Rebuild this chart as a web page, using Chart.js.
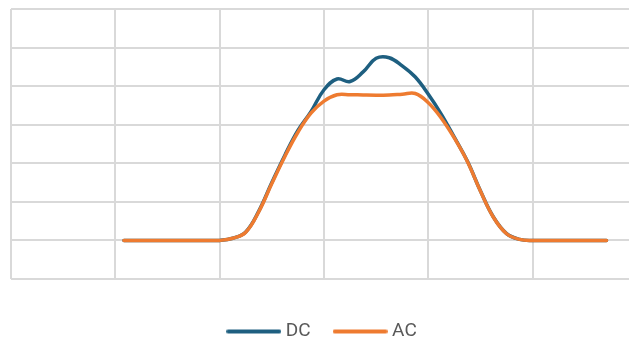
<!DOCTYPE html>
<html>
<head>
<meta charset="utf-8">
<script src="https://cdn.jsdelivr.net/npm/chart.js@4"></script>
<style>
  html, body { margin: 0; padding: 0; overflow: hidden; background: #fff; }
  #wrap { width: 660px; height: 351px; }
</style>
</head>
<body>
<div id="wrap"><canvas id="powerChart"></canvas></div>
<script>
// hour of day for each reading
const hours = [4.33, 5, 6, 7, 7.5, 8, 8.5, 9, 9.5, 10, 10.5, 11, 11.5, 12, 12.5, 13, 13.5,
               14, 14.5, 15, 15.5, 16, 16.5, 17, 17.5, 18, 18.5, 19, 19.5, 20, 21, 22, 22.83];
// power in W
const dcPower = [0, 0, 0, 0, 0, 0, 57, 220, 760, 1500, 2210, 2850, 3338, 3907, 4185, 4120, 4369,
                 4721, 4737, 4524, 4236, 3790, 3270, 2670, 2050, 1280, 600, 176, 28, 0, 0, 0, 0];
const acPower = [0, 0, 0, 0, 0, 0, 57, 213, 744, 1475, 2178, 2805, 3298, 3612, 3778, 3778, 3770,
                 3765, 3770, 3790, 3809, 3570, 3168, 2650, 2040, 1273, 594, 174, 28, 0, 0, 0, 0];
const seriesNames = ['DC', 'AC'];

const dcColor = '#1e5f80';
const acColor = '#ee7b30';
const gridColor = '#d9d9d9';

// legend marker: a short round-capped line
function legendLine(color) {
    const c = document.createElement('canvas');
    c.width = 55;
    c.height = 6;
    const g = c.getContext('2d');
    g.strokeStyle = color;
    g.lineWidth = 4;
    g.lineCap = 'round';
    g.beginPath();
    g.moveTo(2, 3);
    g.lineTo(53, 3);
    g.stroke();
    return c;
}

function toPoints(values) {
    return hours.map((h, i) => ({ x: h, y: values[i] }));
}

document.addEventListener('DOMContentLoaded', () => {
    const ctx = document.getElementById('powerChart').getContext('2d');
    new Chart(ctx, {
        type: 'line',
        data: {
            datasets: [{
                label: seriesNames[0],
                data: toPoints(dcPower),
                borderColor: dcColor,
                backgroundColor: dcColor,
                borderWidth: 3.5,
                borderCapStyle: 'round',
                pointRadius: 0,
                pointStyle: legendLine(dcColor),
                tension: 0.4,
                order: 1
            }, {
                label: seriesNames[1],
                data: toPoints(acPower),
                borderColor: acColor,
                backgroundColor: acColor,
                borderWidth: 3.5,
                borderCapStyle: 'round',
                pointRadius: 0,
                pointStyle: legendLine(acColor),
                tension: 0.4,
                order: 0
            }]
        },
        options: {
            responsive: true,
            maintainAspectRatio: false,
            animation: false,
            layout: { padding: { left: 11, top: 9, right: 23, bottom: 0 } },
            scales: {
                x: {
                    type: 'linear',
                    min: 0,
                    max: 24,
                    ticks: { display: false, stepSize: 4 },
                    grid: { color: gridColor, lineWidth: 2, drawTicks: false },
                    border: { display: false },
                    afterFit: (scale) => { scale.height = 16; }
                },
                y: {
                    min: -1000,
                    max: 6000,
                    ticks: { display: false, stepSize: 1000 },
                    grid: { color: gridColor, lineWidth: 2, drawTicks: false },
                    border: { display: false },
                    afterFit: (scale) => { scale.width = 0; }
                }
            },
            plugins: {
                legend: {
                    position: 'bottom',
                    labels: {
                        usePointStyle: true,
                        pointStyleWidth: 45,
                        padding: 27,
                        color: '#595959',
                        font: { family: 'Roboto', size: 19 },
                        sort: (a, b) => a.datasetIndex - b.datasetIndex
                    }
                },
                tooltip: { enabled: false }
            }
        }
    });
});
</script>
</body>
</html>
